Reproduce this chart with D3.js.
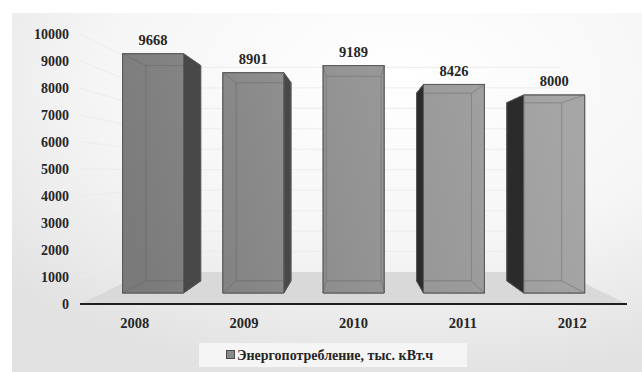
<!DOCTYPE html>
<html>
<head>
<meta charset="utf-8">
<script src="https://cdn.jsdelivr.net/npm/d3@7"></script>
<style>
  html, body { margin: 0; padding: 0; background: #ffffff; }
  svg { display: block; }
  text { font-family: "Liberation Serif", "Times New Roman", serif; font-weight: bold; fill: #262626; }
</style>
</head>
<body>
<svg id="chart" width="642" height="372"></svg>
<script>
// Annual energy consumption, thousand kWh
const years = ["2008", "2009", "2010", "2011", "2012"];
const consumption = [9668, 8901, 9189, 8426, 8000];
const yTicks = [0, 1000, 2000, 3000, 4000, 5000, 6000, 7000, 8000, 9000, 10000];
const legendLabel = "Энергопотребление, тыс. кВт.ч";

const svg = d3.select("#chart");
const defs = svg.append("defs");

// panel background: soft radial light
const bg = defs.append("radialGradient").attr("id", "panelGrad")
  .attr("cx", "62%").attr("cy", "18%").attr("r", "85%");
bg.append("stop").attr("offset", "0%").attr("stop-color", "#ffffff");
bg.append("stop").attr("offset", "55%").attr("stop-color", "#f6f6f6");
bg.append("stop").attr("offset", "100%").attr("stop-color", "#e2e2e2");

// bar body shading, darker on the left, lighter toward the upper right
const bar = defs.append("linearGradient").attr("id", "barGrad")
  .attr("gradientUnits", "userSpaceOnUse")
  .attr("x1", 120).attr("y1", 200).attr("x2", 560).attr("y2", 90);
bar.append("stop").attr("offset", "0%").attr("stop-color", "#7a7a7a");
bar.append("stop").attr("offset", "50%").attr("stop-color", "#939393");
bar.append("stop").attr("offset", "100%").attr("stop-color", "#a6a6a6");

svg.append("rect").attr("x", 12).attr("y", 13).attr("width", 630).attr("height", 359)
  .attr("fill", "url(#panelGrad)");

// 3D perspective: front plane scales, then depth factor k pulls toward the vanishing point
const x = d3.scaleBand().domain(years).range([80, 627]).paddingInner(0.392).paddingOuter(0.196);
const y = d3.scaleLinear().domain([0, 10000]).range([304, 34]);
const vp = [355, 172];
const kFloorBack = 0.758, kBarFront = 0.9167, kBarBack = 0.825;
const P = (X, Y, k) => [vp[0] + k * (X - vp[0]), vp[1] + k * (Y - vp[1])];
const poly = pts => pts.map(p => p.join(",")).join(" ");

const X0 = x.range()[0], X1 = x.range()[1];

// floor
svg.append("polygon")
  .attr("points", poly([P(X0, y(0), 1), P(X1, y(0), 1), P(X1, y(0), kFloorBack), P(X0, y(0), kFloorBack)]))
  .attr("fill", "#d9d9d9");

// gridlines on the side wall and the back wall
const grid = svg.append("g").attr("stroke", "#ececec").attr("stroke-width", 1).attr("fill", "none");
yTicks.filter(v => v > 0).forEach(v => {
  const a = P(X0, y(v), 1), b = P(X0, y(v), kFloorBack), c = P(X1, y(v), kFloorBack);
  grid.append("polyline").attr("points", poly([a, b, c]));
});

// bars
const gBars = svg.append("g");
years.forEach((yr, i) => {
  const v = consumption[i];
  const L = x(yr), R = x(yr) + x.bandwidth();
  const T = y(v), B = y(0);
  const f = { tl: P(L, T, kBarFront), tr: P(R, T, kBarFront), bl: P(L, B, kBarFront), br: P(R, B, kBarFront) };
  const b = { tl: P(L, T, kBarBack), tr: P(R, T, kBarBack), bl: P(L, B, kBarBack), br: P(R, B, kBarBack) };
  const g = gBars.append("g").attr("stroke", "#5a5a5a").attr("stroke-width", 1).attr("stroke-linejoin", "round");

  const leftSide = [f.tl, b.tl, b.bl, f.bl];
  const rightSide = [f.tr, b.tr, b.br, f.br];
  const showRight = R < vp[0], showLeft = L > vp[0];

  // far faces, seen through the translucent front
  g.append("polygon").attr("points", poly([b.tl, b.tr, b.br, b.bl])).attr("fill", "url(#barGrad)");
  if (!showLeft) g.append("polygon").attr("points", poly(leftSide)).attr("fill", "url(#barGrad)");
  if (!showRight) g.append("polygon").attr("points", poly(rightSide)).attr("fill", "url(#barGrad)");
  g.append("polygon").attr("points", poly([f.bl, f.br, b.br, b.bl])).attr("fill", "url(#barGrad)");
  g.append("polygon").attr("points", poly([f.tl, f.tr, b.tr, b.tl])).attr("fill", "url(#barGrad)");

  // visible side face
  if (showRight) g.append("polygon").attr("points", poly(rightSide)).attr("fill", "#484848");
  if (showLeft) g.append("polygon").attr("points", poly(leftSide)).attr("fill", "#2b2b2b");

  // translucent front face
  g.append("polygon").attr("points", poly([f.tl, f.tr, f.br, f.bl]))
    .attr("fill", "url(#barGrad)").attr("fill-opacity", 0.65);

  // value label above the front face
  svg.append("text")
    .attr("x", (f.tl[0] + f.tr[0]) / 2).attr("y", f.tl[1] - 8.5)
    .attr("text-anchor", "middle").attr("font-size", 14.5)
    .text(v);
});

// category axis line
svg.append("line")
  .attr("x1", X0).attr("x2", X1).attr("y1", y(0)).attr("y2", y(0))
  .attr("stroke", "#1e1e1e").attr("stroke-width", 2);

// y tick labels
svg.append("g").selectAll("text").data(yTicks).join("text")
  .attr("x", 69).attr("y", d => y(d)).attr("dy", "0.35em")
  .attr("text-anchor", "end").attr("font-size", 14)
  .text(d => d);

// x labels
svg.append("g").selectAll("text").data(years).join("text")
  .attr("x", d => x(d) + x.bandwidth() / 2).attr("y", 328)
  .attr("text-anchor", "middle").attr("font-size", 14.5)
  .text(d => d);

// legend
const lg = svg.append("g");
lg.append("rect").attr("x", 199).attr("y", 343).attr("width", 268).attr("height", 24).attr("fill", "#f5f5f5");
lg.append("rect").attr("x", 226.5).attr("y", 350.5).attr("width", 8).attr("height", 8)
  .attr("fill", "#8a8a8a").attr("stroke", "#4a4a4a").attr("stroke-width", 1);
lg.append("text").attr("x", 237).attr("y", 359.5).attr("font-size", 14).text(legendLabel);
</script>
</body>
</html>
